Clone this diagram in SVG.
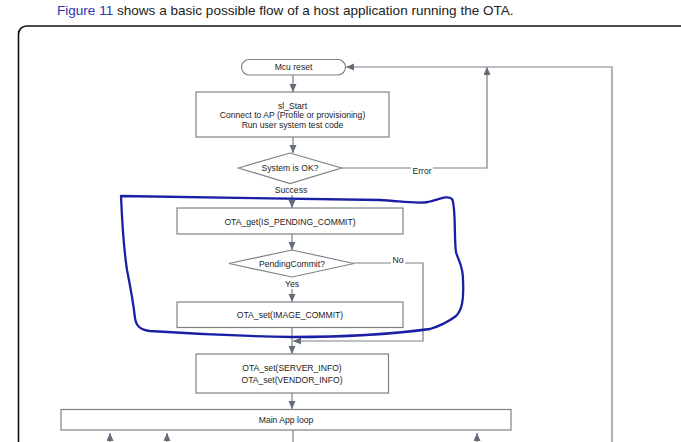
<svg xmlns="http://www.w3.org/2000/svg" width="681" height="442" viewBox="0 0 681 442">
<style>
text{font-family:"Liberation Sans",Arial,sans-serif;fill:#222;}
.t{font-size:8.6px;text-anchor:middle;dominant-baseline:central;}
.box{fill:#fff;stroke:#7d8288;stroke-width:1.2;}
.c{fill:none;stroke:#7a8189;stroke-width:1.2;}
.hand{fill:none;stroke:#1b1fa6;stroke-width:2.3;stroke-linejoin:round;}
</style>
<defs>
<marker id="ah" markerUnits="userSpaceOnUse" markerWidth="9" markerHeight="8" refX="8" refY="3.5" orient="auto">
<path d="M0,0 L8,3.5 L0,7 z" fill="#636d78"/>
</marker>
</defs>
<rect width="681" height="442" fill="#fff"/>
<text x="57" y="15" style="font-size:13.55px"><tspan style="fill:#2f35b0">Figure 11</tspan> shows a basic possible flow of a host application running the OTA.</text>
<rect x="18.5" y="26" width="720" height="460" rx="8" fill="none" stroke="#111" stroke-width="1.6"/>
<g id="connectors">
<line class="c" x1="293" y1="75" x2="293" y2="92" marker-end="url(#ah)"/>
<line class="c" x1="293" y1="137" x2="293" y2="153" marker-end="url(#ah)"/>
<line class="c" x1="292" y1="195" x2="292" y2="208" marker-end="url(#ah)"/>
<line class="c" x1="292" y1="234" x2="292" y2="250" marker-end="url(#ah)"/>
<line class="c" x1="292" y1="289" x2="292" y2="302" marker-end="url(#ah)"/>
<line class="c" x1="292" y1="327" x2="292" y2="354" marker-end="url(#ah)"/>
<line class="c" x1="354" y1="263" x2="391" y2="263"/>
<polyline class="c" points="405,263 423,263 423,341 293,341" marker-end="url(#ah)"/>
<line class="c" x1="292" y1="393" x2="292" y2="409" marker-end="url(#ah)"/>
<line class="c" x1="342" y1="168" x2="411" y2="168"/>
<polyline class="c" points="433,168 487,168 487,67" marker-end="url(#ah)"/>
<polyline class="c" points="612,442 612,67 346,67" marker-end="url(#ah)"/>
<line class="c" x1="110" y1="442" x2="110" y2="433" marker-end="url(#ah)"/>
<line class="c" x1="167" y1="442" x2="167" y2="433" marker-end="url(#ah)"/>
<line class="c" x1="477" y1="442" x2="477" y2="433" marker-end="url(#ah)"/>
<line class="c" x1="293" y1="430" x2="293" y2="442"/>
<text class="t" x="422" y="171">Error</text>
<text class="t" x="291" y="190">Success</text>
<text class="t" x="398" y="260">No</text>
<text class="t" x="292" y="284">Yes</text>
</g>
<g id="mcu-reset">
<rect class="box" x="241.5" y="59.5" width="104" height="15.5" rx="7.75"/>
<text class="t" x="293.5" y="67">Mcu reset</text>
</g>
<g id="sl-start">
<rect class="box" x="196" y="92" width="193" height="45"/>
<text class="t" x="292.5" y="105.5">sl_Start</text>
<text class="t" x="292.5" y="115">Connect to AP (Profile or provisioning)</text>
<text class="t" x="292.5" y="125">Run user system test code</text>
</g>
<g id="system-ok">
<polygon class="box" points="238.5,168 290,153 341.5,168 290,183.5"/>
<text class="t" x="290" y="168">System is OK?</text>
</g>
<g id="ota-get">
<rect class="box" x="177" y="208" width="226" height="26"/>
<text class="t" x="290" y="222">OTA_get(IS_PENDING_COMMIT)</text>
</g>
<g id="pending-commit">
<polygon class="box" points="229,263.5 292,250 354,263.5 292,277"/>
<text class="t" x="292" y="263.5">PendingCommit?</text>
</g>
<g id="ota-set-image">
<rect class="box" x="177" y="302" width="226" height="25.5"/>
<text class="t" x="290" y="315">OTA_set(IMAGE_COMMIT)</text>
</g>
<g id="ota-set-info">
<rect class="box" x="196" y="354" width="192.5" height="39"/>
<text class="t" x="292" y="367.5">OTA_set(SERVER_INFO)</text>
<text class="t" x="292" y="379.5">OTA_set(VENDOR_INFO)</text>
</g>
<g id="main-loop">
<rect class="box" x="61" y="409.5" width="450" height="20.5"/>
<text class="t" x="286" y="419.5">Main App loop</text>
</g>
<path class="hand" d="M121,196 C200,197 300,199 380,200 C400,201 415,204 428,202 C440,199 448,195 452,199 C456,205 454,240 456,252 C458,260 463,265 463,280 C464,300 462,310 456,316 C448,322 440,326 430,329 C400,333 350,337 293,337 C240,336 180,333 150,331 C140,330 136,326 135,318 C133,300 130,285 127,270 C124,250 122,220 121,196 Z"/>
</svg>
